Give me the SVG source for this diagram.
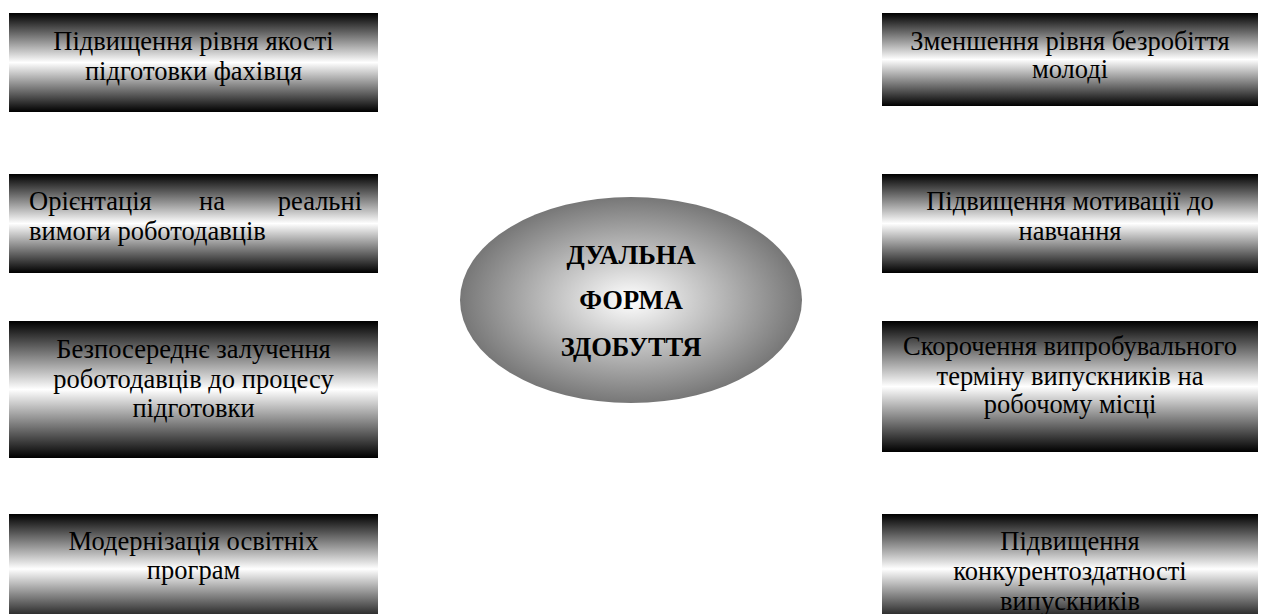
<svg xmlns="http://www.w3.org/2000/svg" width="1269" height="614" viewBox="0 0 1269 614">
<defs>
<linearGradient id="bar" x1="0" y1="0" x2="0" y2="1">
<stop offset="0" stop-color="#000"/>
<stop offset="0.5" stop-color="#fff"/>
<stop offset="1" stop-color="#000"/>
</linearGradient>
<radialGradient id="oval" cx="0.5" cy="0.5" r="0.5">
<stop offset="0" stop-color="#fff"/>
<stop offset="1" stop-color="#777"/>
</radialGradient>
<style>
.box{fill:url(#bar);}
.t{text-anchor:middle;}
</style>
</defs>
<rect width="1269" height="614" fill="#fff"/>
<g id="connectors"></g>
<g font-family="'Liberation Serif', serif" font-size="26.5" fill="#000">
<g id="n-left1">
<rect class="box" x="9" y="13" width="369" height="99"/>
<text class="t" x="193.5" y="50">Підвищення рівня якості</text>
<text class="t" x="193.5" y="80">підготовки фахівця</text>
</g>
<g id="n-left2">
<rect class="box" x="9" y="174" width="369" height="99"/>
<text x="29" y="210">Орієнтація</text>
<text class="t" x="212" y="210">на</text>
<text x="362" y="210" text-anchor="end">реальні</text>
<text x="29" y="240">вимоги роботодавців</text>
</g>
<g id="n-left3">
<rect class="box" x="9" y="321" width="369" height="137"/>
<text class="t" x="193.5" y="358">Безпосереднє залучення</text>
<text class="t" x="193.5" y="388">роботодавців до процесу</text>
<text class="t" x="193.5" y="417">підготовки</text>
</g>
<g id="n-left4">
<rect class="box" x="9" y="514" width="369" height="110"/>
<text class="t" x="193.5" y="550">Модернізація освітніх</text>
<text class="t" x="193.5" y="579">програм</text>
</g>
<g id="n-center">
<ellipse cx="631" cy="300" rx="171" ry="103" fill="url(#oval)"/>
<g font-size="26.5" font-weight="bold">
<text class="t" x="631" y="264">ДУАЛЬНА</text>
<text class="t" x="631" y="309">ФОРМА</text>
<text class="t" x="631" y="356">ЗДОБУТТЯ</text>
</g>
</g>
<g id="n-right1">
<rect class="box" x="882" y="13" width="376" height="93"/>
<text class="t" x="1070" y="50">Зменшення рівня безробіття</text>
<text class="t" x="1070" y="78">молоді</text>
</g>
<g id="n-right2">
<rect class="box" x="882" y="174" width="376" height="99"/>
<text class="t" x="1070" y="210">Підвищення мотивації до</text>
<text class="t" x="1070" y="240">навчання</text>
</g>
<g id="n-right3">
<rect class="box" x="882" y="321" width="376" height="131"/>
<text class="t" x="1070" y="355">Скорочення випробувального</text>
<text class="t" x="1070" y="385">терміну випускників на</text>
<text class="t" x="1070" y="413">робочому місці</text>
</g>
<g id="n-right4">
<rect class="box" x="882" y="514" width="376" height="110"/>
<text class="t" x="1070" y="550">Підвищення</text>
<text class="t" x="1070" y="580">конкурентоздатності</text>
<text class="t" x="1070" y="610">випускників</text>
</g>
</g>
</svg>
